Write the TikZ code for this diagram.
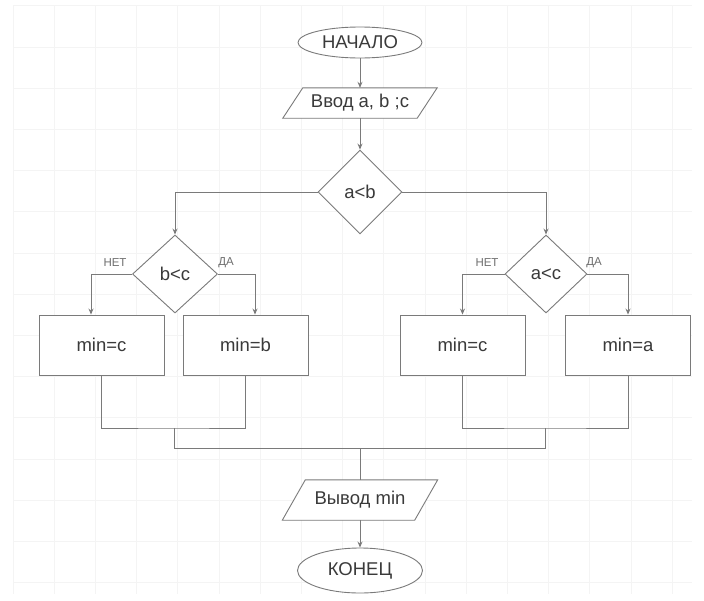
\documentclass[tikz,border=0pt]{standalone}
\usepackage{fontspec}
\setmainfont{Liberation Sans}
\usetikzlibrary{shapes.geometric,arrows.meta}
\definecolor{ln}{HTML}{7A7A7A}
\definecolor{tx}{HTML}{3A3A3A}
\definecolor{gridc}{HTML}{F4F4F4}
\begin{document}
\begin{tikzpicture}[x=1pt,y=-1pt,
  line/.style={draw=ln,line width=0.9pt},
  arrow/.style={line,-{Stealth[length=6pt,width=5pt]}},
  txt/.style={text=tx,font=\fontsize{18.5}{20}\selectfont},
  term/.style={ellipse,line,fill=white,txt,inner sep=0pt},
  io/.style={rectangle,txt,inner sep=0pt},
  dec/.style={diamond,line,fill=white,txt,inner sep=0pt},
  proc/.style={rectangle,line,fill=white,txt,minimum width=125pt,minimum height=60pt,inner sep=0pt},
  lab/.style={text=ln!90!black,font=\fontsize{11.5}{12}\selectfont,inner sep=0pt}
]
\useasboundingbox (0,0) rectangle (704,600);
\fill[white] (0,0) rectangle (704,600);
% faint background grid
\foreach \i in {0,...,16} {\draw[gridc,line width=0.8pt] (13+41.2*\i,6) -- (13+41.2*\i,594);}
\foreach \j in {0,...,14} {\draw[gridc,line width=0.8pt] (13,5.8+41.2*\j) -- (692,5.8+41.2*\j);}

% nodes
\node[term,minimum width=124pt,minimum height=31pt] (start) at (360,42.5) {НАЧАЛО};
\node[io,minimum width=134pt,minimum height=30pt] (in) at (360,103) {Ввод a, b ;c};
\draw[line,fill=white] ([xshift=-10pt]in.south west) -- ([xshift=10pt]in.north west)
   -- ([xshift=10pt]in.north east) -- ([xshift=-10pt]in.south east) -- cycle;
\node[io,minimum width=134pt,minimum height=30pt] at (in) {Ввод a, b ;c};

\node[dec,minimum width=84pt,minimum height=84pt] (d1) at (360,192) {a<b};
\node[dec,minimum width=85pt,minimum height=78pt] (d2) at (175,274) {b<c};
\node[dec,minimum width=82pt,minimum height=78pt] (d3) at (546,274) {a<c};

\node[proc] (b1) at (101.5,345) {min=c};
\node[proc] (b2) at (245.5,345) {min=b};
\node[proc] (b3) at (462.5,345) {min=c};
\node[proc] (b4) at (628,345) {min=a};

\node[io,minimum width=132pt,minimum height=40pt] (out) at (360,500) {Вывод min};
\draw[line,fill=white] ([xshift=-11.5pt]out.south west) -- ([xshift=11.5pt]out.north west)
   -- ([xshift=11.5pt]out.north east) -- ([xshift=-11.5pt]out.south east) -- cycle;
\node[io,minimum width=132pt,minimum height=40pt] at (out) {Вывод min};

\node[term,minimum width=125pt,minimum height=45pt] (end) at (360,570.5) {КОНЕЦ};

% labels
\node[lab] (l1) at (115,263) {НЕТ};
\node[lab] (l2) at (226,263) {ДА};
\node[lab] (l3) at (487,263) {НЕТ};
\node[lab] (l4) at (594,263) {ДА};

% connectors
\draw[arrow] (start.south) -- (in.north);
\draw[arrow] (in.south) -- (d1.north);
\draw[arrow] (d1.west) -| (d2.north);
\draw[arrow] (d1.east) -| (d3.north);
\draw[arrow] (d2.west) -| ([xshift=-10.5pt]b1.north);
\draw[arrow] (d2.east) -| ([xshift=9.5pt]b2.north);
\draw[arrow] (d3.west) -| (b3.north);
\draw[arrow] (d3.east) -| (b4.north);

\coordinate (j1) at (174,428);
\coordinate (j2) at (545,428);
\coordinate (m1) at (174,448);
\coordinate (m2) at (545,448);
\coordinate (m0) at (360,448);
\draw[line] (b1.south) |- (j1) -| (b2.south);
\draw[line] (b3.south) |- (j2) -| (b4.south);
\draw[line] (j1) -- (m1) -- (m2) -- (j2);
\draw[line] (m0) -- (out.north);
\draw[arrow] (out.south) -- (end.north);
\end{tikzpicture}
\end{document}
